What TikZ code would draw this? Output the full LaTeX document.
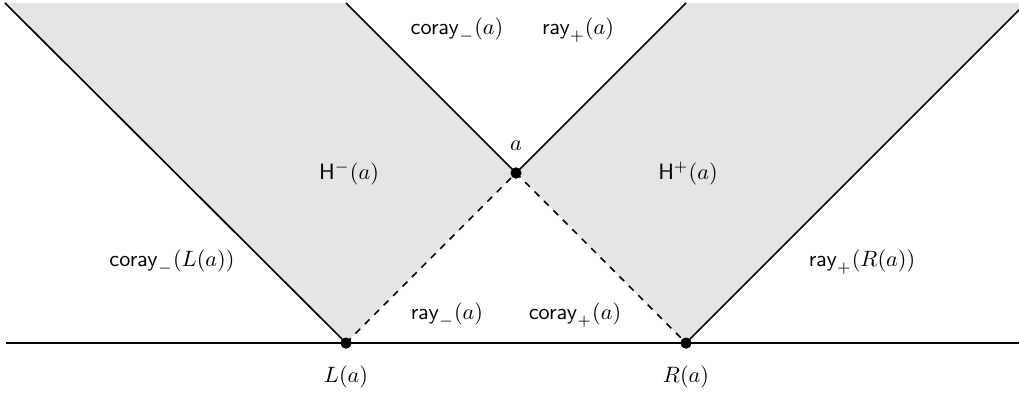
\documentclass[tikz,border=0pt]{standalone}
\begin{document}
\begin{tikzpicture}[x=0.45pt,y=-0.45pt,
  ln/.style={line width=0.75pt},
  dsh/.style={line width=0.75pt,dashed},
  dot/.style={circle,fill=black,inner sep=0pt,minimum size=5pt},
  lab/.style={inner sep=0pt}]
\useasboundingbox (0,0) rectangle (1019,397);
\begin{scope}
\clip (0,0) rectangle (1019,397);
\coordinate (TL) at (5,3);
\coordinate (TM1) at (346,3);
\coordinate (TM2) at (686,3);
\coordinate (TR) at (1026,3);
\coordinate (E1) at (6,343);
\coordinate (E2) at (1019,343);
\node[dot] (a) at (516,173) {};
\node[dot] (L) at (346,343) {};
\node[dot] (R) at (686,343) {};
\fill[black!10] (TL) -- (TM1) -- (a.center) -- (L.center) -- cycle;
\fill[black!10] (TM2) -- (TR) -- (R.center) -- (a.center) -- cycle;
\draw[ln] (E1) -- (E2);
\draw[ln] (TL) -- (L.center);
\draw[ln] (TM1) -- (a.center) -- (TM2);
\draw[ln] (R.center) -- (TR);
\draw[dsh] (L.center) -- (a.center) -- (R.center);
\node[dot] at (a) {};
\node[dot] at (L) {};
\node[dot] at (R) {};
\end{scope}
\node[lab] (t1) at (457,30) {$\mathsf{coray}_-(a)$};
\node[lab] (t2) at (578,30) {$\mathsf{ray}_+(a)$};
\node[lab] (ta) at (516,146) {$a$};
\node[lab] (hm) at (349,173) {$\mathsf{H}^-(a)$};
\node[lab] (hp) at (688,173) {$\mathsf{H}^+(a)$};
\node[lab] (cl) at (172,262) {$\mathsf{coray}_-(L(a))$};
\node[lab] (rr) at (862,262) {$\mathsf{ray}_+(R(a))$};
\node[lab] (rm) at (447,315) {$\mathsf{ray}_-(a)$};
\node[lab] (cp) at (575,315) {$\mathsf{coray}_+(a)$};
\node[lab] (tL) at (346,377) {$L(a)$};
\node[lab] (tR) at (686,377) {$R(a)$};
\end{tikzpicture}
\end{document}
